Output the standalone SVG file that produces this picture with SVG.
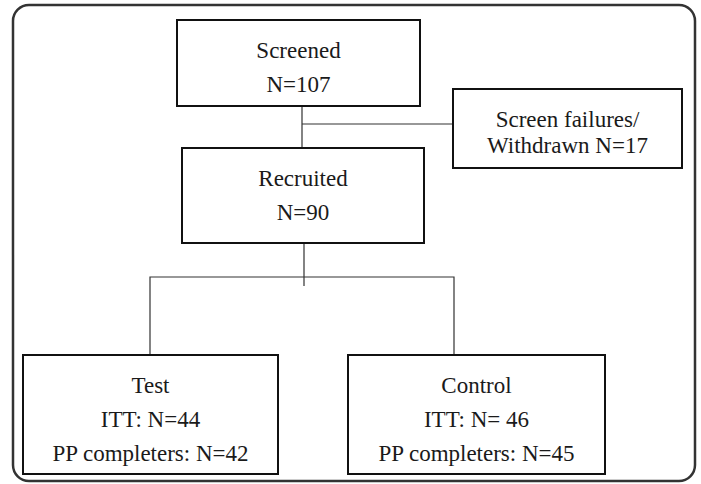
<svg xmlns="http://www.w3.org/2000/svg" width="701" height="484" viewBox="0 0 701 484">
<style>
.frame{fill:#fff;stroke:#333;stroke-width:2.5}
.box{fill:#fff;stroke:#111;stroke-width:2}
.conn{fill:none;stroke:#333;stroke-width:1.2}
.t{font-family:'Liberation Serif','DejaVu Serif',serif;font-size:23px;fill:#1a1a1a;text-anchor:middle}
</style>
<rect class="frame" x="13" y="5" width="682" height="476" rx="16" ry="16"/>
<g id="connectors">
<path class="conn" d="M302,106 V148 M302,124 H453"/>
<path class="conn" d="M304,225 V286 M150,355 V277 H454 V355"/>
</g>
<g id="screened">
<rect class="box" x="177" y="20" width="243" height="86"/>
<text class="t" x="298.5" y="58">Screened</text>
<text class="t" x="298.5" y="92">N=107</text>
</g>
<g id="failures">
<rect class="box" x="453" y="89" width="229" height="79"/>
<text class="t" x="567.5" y="127">Screen failures/</text>
<text class="t" x="567.5" y="153">Withdrawn N=17</text>
</g>
<g id="recruited">
<rect class="box" x="182" y="148" width="242" height="95"/>
<text class="t" x="303" y="186">Recruited</text>
<text class="t" x="303" y="220">N=90</text>
</g>
<g id="test">
<rect class="box" x="23" y="355" width="255" height="119"/>
<text class="t" x="150.5" y="393">Test</text>
<text class="t" x="150.5" y="427">ITT: N=44</text>
<text class="t" x="150.5" y="461">PP completers: N=42</text>
</g>
<g id="control">
<rect class="box" x="348" y="355" width="257" height="119"/>
<text class="t" x="476.5" y="393">Control</text>
<text class="t" x="476.5" y="427">ITT: N= 46</text>
<text class="t" x="476.5" y="461">PP completers: N=45</text>
</g>
</svg>
